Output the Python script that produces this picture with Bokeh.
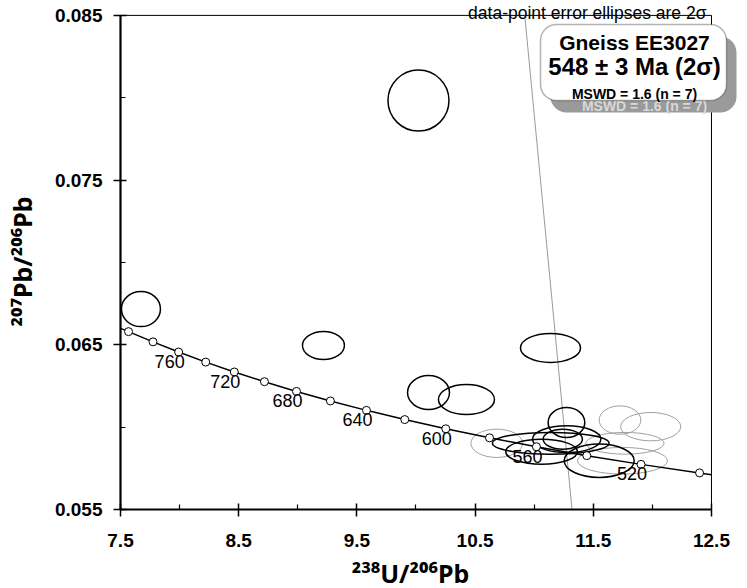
from bokeh.plotting import figure
from bokeh.models import Range1d, FixedTicker, Label, BoxAnnotation
from bokeh.embed import file_html
from bokeh.resources import INLINE
from bokeh.core.properties import value

FONT = "Liberation Sans"
TITLE_FONT = "Noto Sans"

# ---- axes ----
x_major = [7.5, 8.5, 9.5, 10.5, 11.5, 12.5]
x_minor = [8.0, 9.0, 10.0, 11.0, 12.0]
x_tick_labels = ["7.5", "8.5", "9.5", "10.5", "11.5", "12.5"]
y_major = [0.055, 0.065, 0.075, 0.085]
y_minor = [0.060, 0.070, 0.080]
y_tick_labels = ["0.055", "0.065", "0.075", "0.085"]
x_title = "²³⁸U/²⁰⁶Pb"
y_title = "²⁰⁷Pb/²⁰⁶Pb"

# ---- concordia (Tera-Wasserburg) markers every 20 Ma ----
conc_age = [800, 780, 760, 740, 720, 700, 680, 660, 640, 620, 600, 580, 560, 540, 520, 500]
conc_x = [7.568, 7.775, 7.992, 8.221, 8.463, 8.718, 8.989, 9.276, 9.581, 9.905,
          10.252, 10.622, 11.019, 11.445, 11.904, 12.399]
conc_y = [0.06580, 0.06518, 0.06456, 0.06395, 0.06335, 0.06276, 0.06217, 0.06159,
          0.06102, 0.06046, 0.05990, 0.05935, 0.05881, 0.05827, 0.05774, 0.05722]
conc_end_left = (7.5, 0.06600)
conc_end_right = (12.5, 0.05711)
conc_label_age = [760, 720, 680, 640, 600, 560, 520]

# ---- black (accepted) error ellipses: centre, full width, full height ----
blk_x = [7.673, 9.217, 10.106, 10.427, 10.021, 11.138, 11.273, 11.275, 11.242, 11.140, 11.063, 11.550]
blk_y = [0.06717, 0.06496, 0.06210, 0.06168, 0.07983, 0.06481, 0.06028, 0.05927, 0.05927, 0.05902, 0.05851, 0.05796]
blk_w = [0.330, 0.355, 0.355, 0.474, 0.516, 0.508, 0.310, 0.578, 0.332, 0.987, 0.607, 0.592]
blk_h = [0.00213, 0.00170, 0.00206, 0.00182, 0.00370, 0.00176, 0.00182, 0.00162, 0.00121, 0.00132, 0.00152, 0.00202]

# ---- grey (rejected) error ellipses ----
gry_x = [10.683, 11.726, 11.986, 11.768, 11.747]
gry_y = [0.05902, 0.06043, 0.06003, 0.05902, 0.05796]
gry_w = [0.437, 0.353, 0.508, 0.662, 0.761]
gry_h = [0.00172, 0.00172, 0.00172, 0.00132, 0.00162]

# ---- thin grey line ----
gline_x = [10.92, 11.32]
gline_y = [0.085, 0.055]

note_text = "data-point error ellipses are 2σ"
box_lines = ["Gneiss EE3027", "548 ± 3 Ma (2σ)", "MSWD = 1.6 (n = 7)"]

NBSP = "\u00a0"

# frame extends past 12.5 / 0.085 so the box and note can sit there; axes are bounded
p = figure(width=739, height=604, x_range=Range1d(7.5, 12.737), y_range=Range1d(0.055, 0.085905),
           output_backend="svg", toolbar_location=None,
           min_border_left=120, min_border_right=0, min_border_top=0, min_border_bottom=95)
p.xgrid.visible = False
p.ygrid.visible = False
p.outline_line_color = None
p.background_fill_color = "white"
p.border_fill_color = "white"

for ax, maj, mnr, labs in [(p.xaxis[0], x_major, x_minor, x_tick_labels),
                           (p.yaxis[0], y_major, y_minor, y_tick_labels)]:
    ax.ticker = FixedTicker(ticks=maj, minor_ticks=mnr)
    ax.bounds = (maj[0], maj[-1])
    ax.major_label_overrides = {t: l for t, l in zip(maj, labs)}
    ax.axis_line_width = 2.2
    ax.axis_line_color = "black"
    ax.major_tick_line_width = 1.5
    ax.minor_tick_line_width = 1.2
    ax.major_tick_in = 6
    ax.major_tick_out = 7
    ax.minor_tick_in = 5
    ax.minor_tick_out = 0
    ax.major_label_text_font = FONT
    ax.major_label_text_font_size = "19px"
    ax.major_label_text_font_style = "bold"
    ax.major_label_text_color = "black"
    ax.axis_label_text_font = TITLE_FONT
    ax.axis_label_text_font_size = "25px"
    ax.axis_label_text_font_style = "bold"
    ax.axis_label_text_color = "black"
# trailing no-break spaces centre the titles on the bounded axes rather than the frame
p.xaxis.axis_label = x_title + NBSP * 6
p.yaxis.axis_label = y_title + NBSP * 2
p.xaxis.major_label_standoff = 17
p.yaxis.major_label_standoff = 11
p.xaxis.axis_label_standoff = 6
p.yaxis.axis_label_standoff = 13

# top and right frame borders
p.line([x_major[0], x_major[-1]], [y_major[-1], y_major[-1]], line_color="black", line_width=1)
p.line([x_major[-1], x_major[-1]], [y_major[0], y_major[-1]], line_color="black", line_width=1)

# grey line
p.line(gline_x, gline_y, line_color="#9a9a9a", line_width=1)

# grey ellipses
p.ellipse(x=gry_x, y=gry_y, width=gry_w, height=gry_h, fill_color=None,
          line_color="#a0a0a0", line_width=1)

# concordia
line_x = [conc_end_left[0]] + conc_x + [conc_end_right[0]]
line_y = [conc_end_left[1]] + conc_y + [conc_end_right[1]]
p.line(line_x, line_y, line_color="black", line_width=1.5)

# black ellipses
p.ellipse(x=blk_x, y=blk_y, width=blk_w, height=blk_h, fill_color=None,
          line_color="black", line_width=1.5)

# concordia markers
p.scatter(conc_x, conc_y, marker="circle", size=8, fill_color="white",
          line_color="black", line_width=1)

# age labels
lx = [conc_x[conc_age.index(a)] for a in conc_label_age]
ly = [conc_y[conc_age.index(a)] for a in conc_label_age]
p.text(lx, ly, text=[str(a) for a in conc_label_age], x_offset=6, y_offset=3,
       text_align="right", text_baseline="top", text_font=value(FONT),
       text_font_size="18px", text_color="black")

# note above the plot
p.add_layout(Label(x=586, y=497, x_units="screen", y_units="screen", text=note_text,
                   text_align="right", text_baseline="alphabetic", text_font=FONT,
                   text_font_size="17.5px", text_color="black"))

# result box with shadow
p.add_layout(BoxAnnotation(left=430, right=616, top=473, bottom=397,
                           left_units="screen", right_units="screen",
                           top_units="screen", bottom_units="screen",
                           fill_color="#9a9a9a", fill_alpha=1, line_color=None,
                           border_radius=16))
p.add_layout(Label(x=524, y=404, x_units="screen", y_units="screen", text=box_lines[2],
                   text_align="center", text_baseline="middle", text_font=FONT,
                   text_font_size="14px", text_font_style="bold", text_color="#d8d8d8"))
p.add_layout(BoxAnnotation(left=420, right=606, top=485, bottom=409,
                           left_units="screen", right_units="screen",
                           top_units="screen", bottom_units="screen",
                           fill_color="white", fill_alpha=1, line_color="black",
                           line_width=1.5, border_radius=16))
for txt, yy, fs in zip(box_lines, [467, 443, 416], ["21px", "24px", "14px"]):
    p.add_layout(Label(x=514, y=yy, x_units="screen", y_units="screen", text=txt,
                       text_align="center", text_baseline="middle", text_font=FONT,
                       text_font_size=fs, text_font_style="bold", text_color="black"))

open("out.html", "w").write(file_html(p, INLINE))
